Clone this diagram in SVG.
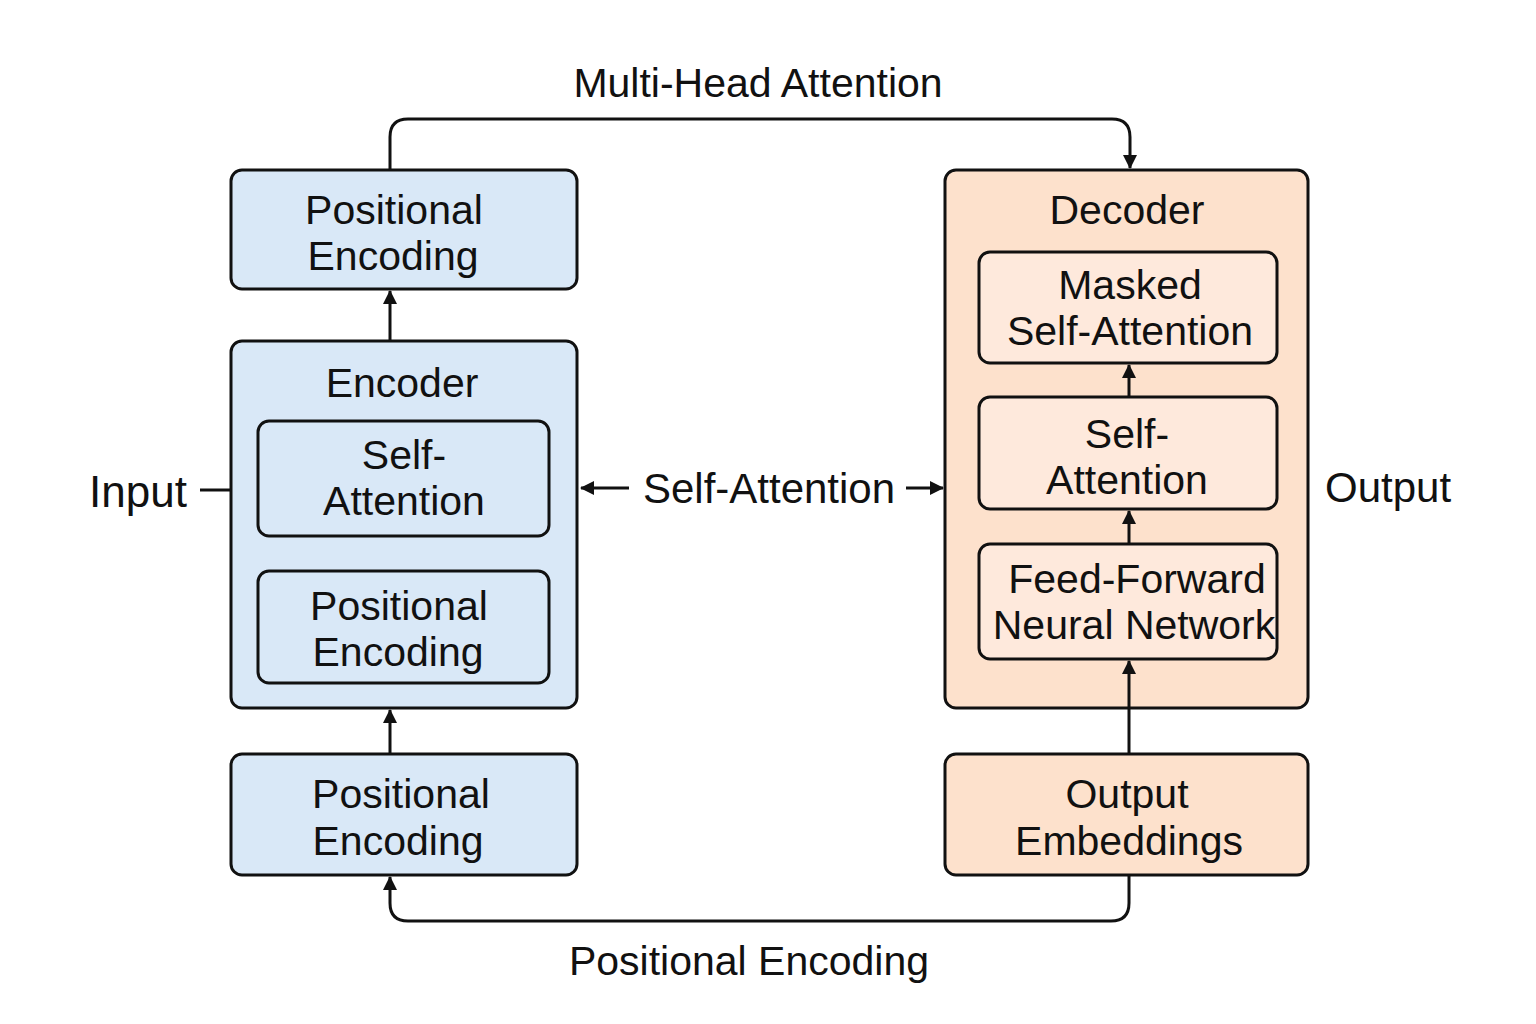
<svg xmlns="http://www.w3.org/2000/svg" width="1536" height="1024" viewBox="0 0 1536 1024">
<style>
  .t { font-family: "Liberation Sans", Arial, sans-serif; font-size: 41px; fill: #111; text-anchor: middle; }
  .lbl { font-family: "Liberation Sans", Arial, sans-serif; font-size: 41px; fill: #111; }
  .blue { fill: #d9e8f7; stroke: #111; stroke-width: 3; }
  .orange { fill: #fde1cc; stroke: #111; stroke-width: 3; }
  .orangeIn { fill: #fee9dc; stroke: #111; stroke-width: 3; }
  .conn { fill: none; stroke: #111; stroke-width: 3; }
</style>
<defs>
  <marker id="arr" viewBox="0 0 14 14" refX="13" refY="7" markerWidth="14" markerHeight="14" markerUnits="userSpaceOnUse" orient="auto">
    <path d="M0,0 L14,7 L0,14 Z" fill="#111"/>
  </marker>
</defs>
<rect width="1536" height="1024" fill="#ffffff"/>

<g id="pe-top">
  <rect class="blue" x="231" y="170" width="346" height="119" rx="11"/>
  <text class="t" x="394" y="224">Positional</text>
  <text class="t" x="393" y="270">Encoding</text>
</g>

<g id="encoder">
  <rect class="blue" x="231" y="341" width="346" height="367" rx="11"/>
  <text class="t" x="402" y="397">Encoder</text>
</g>
<g id="enc-self-attention">
  <rect class="blue" x="258" y="421" width="291" height="115" rx="11"/>
  <text class="t" x="404" y="469">Self-</text>
  <text class="t" x="404" y="515">Attention</text>
</g>
<g id="enc-positional-encoding">
  <rect class="blue" x="258" y="571" width="291" height="112" rx="11"/>
  <text class="t" x="399" y="620">Positional</text>
  <text class="t" x="398" y="666">Encoding</text>
</g>

<g id="pe-bottom">
  <rect class="blue" x="231" y="754" width="346" height="121" rx="11"/>
  <text class="t" x="401" y="808">Positional</text>
  <text class="t" x="398" y="855">Encoding</text>
</g>

<g id="decoder">
  <rect class="orange" x="945" y="170" width="363" height="538" rx="11"/>
  <text class="t" x="1127" y="224">Decoder</text>
</g>
<g id="masked-self-attention">
  <rect class="orangeIn" x="979" y="252" width="298" height="111" rx="11"/>
  <text class="t" x="1130" y="299">Masked</text>
  <text class="t" x="1130" y="345">Self-Attention</text>
</g>
<g id="dec-self-attention">
  <rect class="orangeIn" x="979" y="397" width="298" height="112" rx="11"/>
  <text class="t" x="1127" y="448">Self-</text>
  <text class="t" x="1127" y="494">Attention</text>
</g>
<g id="ffnn">
  <rect class="orangeIn" x="979" y="544" width="298" height="115" rx="11"/>
  <text class="t" x="1137" y="593">Feed-Forward</text>
  <text class="t" x="1134" y="639">Neural Network</text>
</g>

<g id="output-embeddings">
  <rect class="orange" x="945" y="754" width="363" height="121" rx="11"/>
  <text class="t" x="1127" y="808">Output</text>
  <text class="t" x="1129" y="855">Embeddings</text>
</g>

<g id="input">
  <text class="lbl" x="89" y="507" style="font-size:44px">Input</text>
</g>
<g id="output">
  <text class="lbl" x="1325" y="502" style="font-size:42px">Output</text>
</g>

<g id="connectors">
  <line class="conn" x1="390" y1="341" x2="390" y2="291" marker-end="url(#arr)"/>
  <path class="conn" d="M390,170 V137 Q390,119 408,119 H1112 Q1130,119 1130,137 V168" marker-end="url(#arr)"/>
  <line class="conn" x1="390" y1="754" x2="390" y2="710" marker-end="url(#arr)"/>
  <path class="conn" d="M1129,875 V903 Q1129,921 1111,921 H408 Q390,921 390,903 V877" marker-end="url(#arr)"/>
  <line class="conn" x1="1129" y1="754" x2="1129" y2="661" marker-end="url(#arr)"/>
  <line class="conn" x1="1129" y1="544" x2="1129" y2="511" marker-end="url(#arr)"/>
  <line class="conn" x1="1129" y1="397" x2="1129" y2="365" marker-end="url(#arr)"/>
  <line class="conn" x1="200" y1="490" x2="231" y2="490"/>
  <line class="conn" x1="629" y1="488" x2="581" y2="488" marker-end="url(#arr)"/>
  <line class="conn" x1="906" y1="488" x2="943" y2="488" marker-end="url(#arr)"/>
  <text class="lbl" x="769" y="503" text-anchor="middle" style="font-size:42px">Self-Attention</text>
  <text class="lbl" x="758" y="97" text-anchor="middle">Multi-Head Attention</text>
  <text class="lbl" x="749" y="975" text-anchor="middle">Positional Encoding</text>
</g>
</svg>
